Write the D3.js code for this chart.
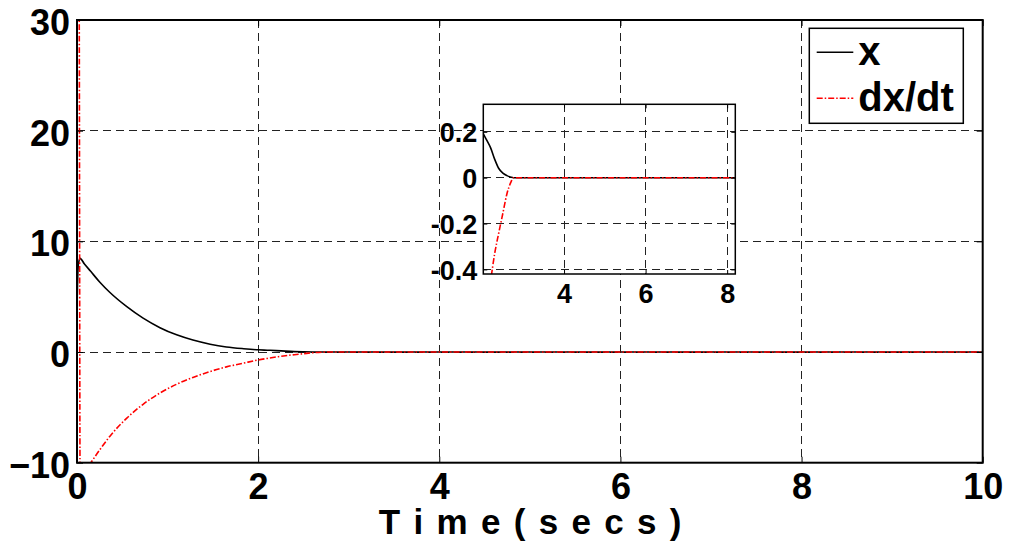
<!DOCTYPE html>
<html>
<head>
<meta charset="utf-8">
<script src="https://cdn.jsdelivr.net/npm/d3@7"></script>
<style>
  html, body { margin: 0; padding: 0; background: #fff; }
  svg { display: block; }
  text { font-family: "Liberation Sans", Arial, sans-serif; font-weight: bold; fill: #000; }
</style>
</head>
<body>
<svg id="chart" width="1009" height="542"></svg>
<script>
// Simulated response of the state x and its derivative dx/dt
const time = [0, 0.012, 0.024, 0.034, 0.08, 0.151, 0.25, 0.364, 0.55, 0.73, 0.916, 1.1, 1.28, 1.47, 1.65, 1.84,
              2.0, 2.1, 2.2, 2.3, 2.4, 2.5, 2.6, 2.7, 2.76, 3, 4, 5, 6, 7, 8, 9, 10];
const xValues = [4.0, 7.6, 8.3, 8.46, 7.98, 7.29, 6.33, 5.38, 4.1, 3.06, 2.2, 1.55, 1.08, 0.71, 0.46, 0.3,
                 0.2, 0.165, 0.13, 0.08, 0.04, 0.02, 0.009, 0.002, 0, 0, 0, 0, 0, 0, 0, 0, 0];
const dxValues = [40, 34, 31, -11.5, -10.9, -10.03, -8.85, -7.6, -5.97, -4.72, -3.7, -2.91, -2.3, -1.76, -1.34, -1.0,
                  -0.72, -0.58, -0.45, -0.33, -0.24, -0.155, -0.07, -0.018, 0, 0, 0, 0, 0, 0, 0, 0, 0];

const seriesNames = ["x", "dx/dt"];
const xTicks = [0, 2, 4, 6, 8, 10];
const yTicks = [-10, 0, 10, 20, 30];
const insetXTicks = [4, 6, 8];
const insetYTicks = [-0.4, -0.2, 0, 0.2];
const insetYLabels = ["-0.4", "-0.2", "0", "0.2"];
const xTitle = "T i m e ( s e c s )";

const svg = d3.select("#chart");

const series = [
  { name: seriesNames[0], values: xValues, color: "#000", dash: null },
  { name: seriesNames[1], values: dxValues, color: "#ff0000", dash: "6,2,1.5,2" }
];

function drawPanel(opts) {
  const { xDomain, yDomain, left, top, right, bottom, xT, yT, yFmt, fs, tickLen, id } = opts;
  const x = d3.scaleLinear().domain(xDomain).range([left, right]);
  const y = d3.scaleLinear().domain(yDomain).range([bottom, top]);
  const g = svg.append("g");

  g.append("rect").attr("x", left).attr("y", top)
    .attr("width", right - left).attr("height", bottom - top)
    .attr("fill", "#fff");

  // dashed grid
  const grid = g.append("g").attr("stroke", "#222").attr("stroke-width", 1)
    .attr("stroke-dasharray", "8,5").attr("shape-rendering", "crispEdges");
  xT.filter(v => x(v) > left + 1 && x(v) < right - 1).forEach(v => {
    grid.append("line").attr("x1", x(v)).attr("x2", x(v)).attr("y1", top).attr("y2", bottom);
  });
  yT.filter(v => y(v) > top + 1 && y(v) < bottom - 1).forEach(v => {
    grid.append("line").attr("y1", y(v)).attr("y2", y(v)).attr("x1", left).attr("x2", right);
  });

  // curves, clipped to the plot box
  const clipId = "clip-" + id;
  svg.append("defs").append("clipPath").attr("id", clipId)
    .append("rect").attr("x", left).attr("y", top).attr("width", right - left).attr("height", bottom - top);
  const line = d3.line().x((d, i) => x(time[i])).y(d => y(d)).curve(d3.curveMonotoneX);
  const curves = g.append("g").attr("clip-path", `url(#${clipId})`);
  series.forEach(s => {
    curves.append("path").datum(s.values)
      .attr("d", line).attr("fill", "none")
      .attr("stroke", s.color).attr("stroke-width", 1.6)
      .attr("stroke-dasharray", s.dash);
  });

  // axes with inward ticks on all four sides
  const xAxis = d3.axisBottom(x).tickValues(xT).tickSizeInner(-tickLen).tickSizeOuter(0)
    .tickPadding(opts.xPad).tickFormat(d3.format("d"));
  const yAxis = d3.axisLeft(y).tickValues(yT).tickSizeInner(-tickLen).tickSizeOuter(0)
    .tickPadding(opts.yPad).tickFormat(yFmt);
  const gx = g.append("g").attr("transform", `translate(0,${bottom})`).call(xAxis);
  const gy = g.append("g").attr("transform", `translate(${left},0)`).call(yAxis);
  const gxTop = g.append("g").attr("transform", `translate(0,${top})`)
    .call(d3.axisTop(x).tickValues(xT).tickSizeInner(-tickLen).tickSizeOuter(0).tickFormat(""));
  const gyRight = g.append("g").attr("transform", `translate(${right},0)`)
    .call(d3.axisRight(y).tickValues(yT).tickSizeInner(-tickLen).tickSizeOuter(0).tickFormat(""));
  [gx, gy, gxTop, gyRight].forEach(a => {
    a.select(".domain").remove();
    a.selectAll("line").attr("stroke", "#000").attr("stroke-width", 1);
    a.selectAll("text").attr("font-size", fs).attr("font-family", null).attr("fill", "#000");
  });
  gy.selectAll("text").attr("dy", opts.yDy);
  gx.selectAll("text").attr("dy", "0.71em");

  g.append("rect").attr("x", left).attr("y", top)
    .attr("width", right - left).attr("height", bottom - top)
    .attr("fill", "none").attr("stroke", "#000").attr("stroke-width", opts.frame);
  return { x, y };
}

// main panel
drawPanel({
  id: "main", xDomain: [0, 10], yDomain: [-10, 30],
  left: 77, top: 20, right: 982.7, bottom: 462.7,
  xT: xTicks, yT: yTicks, yFmt: d3.format("d"), fs: 36, tickLen: 6,
  xPad: 11, yPad: 7, yDy: "0.4em", frame: 2
});

// zoomed inset of the settling region
drawPanel({
  id: "inset", xDomain: [2.02, 8.2], yDomain: [-0.42, 0.32],
  left: 483.3, top: 104.3, right: 735.3, bottom: 274,
  xT: insetXTicks, yT: insetYTicks, yFmt: (d, i) => insetYLabels[i], fs: 27, tickLen: 4,
  xPad: 10, yPad: 6, yDy: "0.36em", frame: 1.5
});

// x-axis title
svg.append("text").attr("x", 531).attr("y", 534)
  .attr("text-anchor", "middle").attr("font-size", 35)
  .attr("letter-spacing", 1.8)
  .text(xTitle);

// legend
const legend = svg.append("g");
legend.append("rect").attr("x", 809.3).attr("y", 28.3).attr("width", 154).attr("height", 95)
  .attr("fill", "#fff").attr("stroke", "#000").attr("stroke-width", 1.5);
series.forEach((s, i) => {
  const ly = 52.3 + i * 46;
  legend.append("line").attr("x1", 816.7).attr("x2", 853.3).attr("y1", ly).attr("y2", ly)
    .attr("stroke", s.color).attr("stroke-width", 1.6).attr("stroke-dasharray", s.dash);
  legend.append("text").attr("x", 858.3).attr("y", ly + 13)
    .attr("font-size", 40).text(s.name);
});
</script>
</body>
</html>
